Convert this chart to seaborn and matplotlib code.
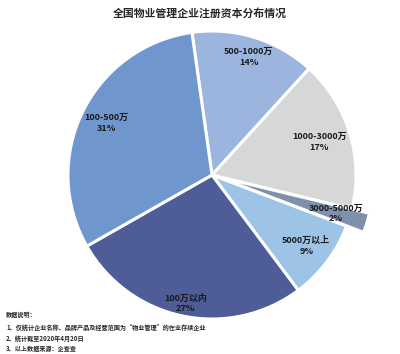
import matplotlib
matplotlib.use("Agg")
import matplotlib.pyplot as plt
import seaborn as sns
import numpy as np

categories = ["500-1000万", "1000-3000万", "3000-5000万", "5000万以上", "100万以内", "100-500万"]
shares = [14, 17, 2, 9, 27, 31]
colors = ["#9BB5DF", "#D6D7D9", "#7F90AC", "#9DC3E6", "#4E5C98", "#7096CE"]
explode = [0, 0, 0.12, 0, 0, 0]
label_dist = [0.86, 0.78, 0.78, 0.82, 0.91, 0.82]
title = "全国物业管理企业注册资本分布情况"
notes = ["数据说明：",
         "1、仅统计企业名称、品牌产品及经营范围为“物业管理”的在业存续企业",
         "2、统计截至2020年4月20日",
         "3、以上数据来源：企查查"]

sns.set_theme(style="white")
plt.rcParams['font.family'] = ['Noto Sans CJK SC', 'DejaVu Sans']

fig = plt.figure(figsize=(4.0, 3.54), dpi=100)
ax = fig.add_axes([0, 0, 1, 1])
cx, cy, r = 212, 179, 144
W, H = 400, 354

wedges, _ = ax.pie(shares, colors=sns.color_palette(colors), explode=explode,
                   startangle=98, counterclock=False,
                   wedgeprops=dict(edgecolor="white", linewidth=2.2))
wedges[2].set_linewidth(1.0)
for w, c, s, d in zip(wedges, categories, shares, label_dist):
    ang = np.deg2rad((w.theta1 + w.theta2) / 2)
    x0, y0 = w.center
    ax.text(x0 + d * np.cos(ang), y0 + d * np.sin(ang), f"{c}\n{s}%",
            ha="center", va="center", fontsize=6.5, fontweight="bold",
            color="#1a1a1a", linespacing=1.25)

ax.set_xlim(-cx / r, (W - cx) / r)
ax.set_ylim(-cy / r, (H - cy) / r)
ax.set_aspect("auto")
ax.axis("off")

fig.text(0.5, 1 - 13 / H, title, ha="center", va="center", fontsize=7.8, fontweight="bold")
ys = [315, 327, 338, 349]
for y, n in zip(ys, notes):
    fig.text(6 / W, 1 - y / H, n, ha="left", va="center", fontsize=4.4, fontweight="bold")

fig.savefig("out.png", dpi=100)
